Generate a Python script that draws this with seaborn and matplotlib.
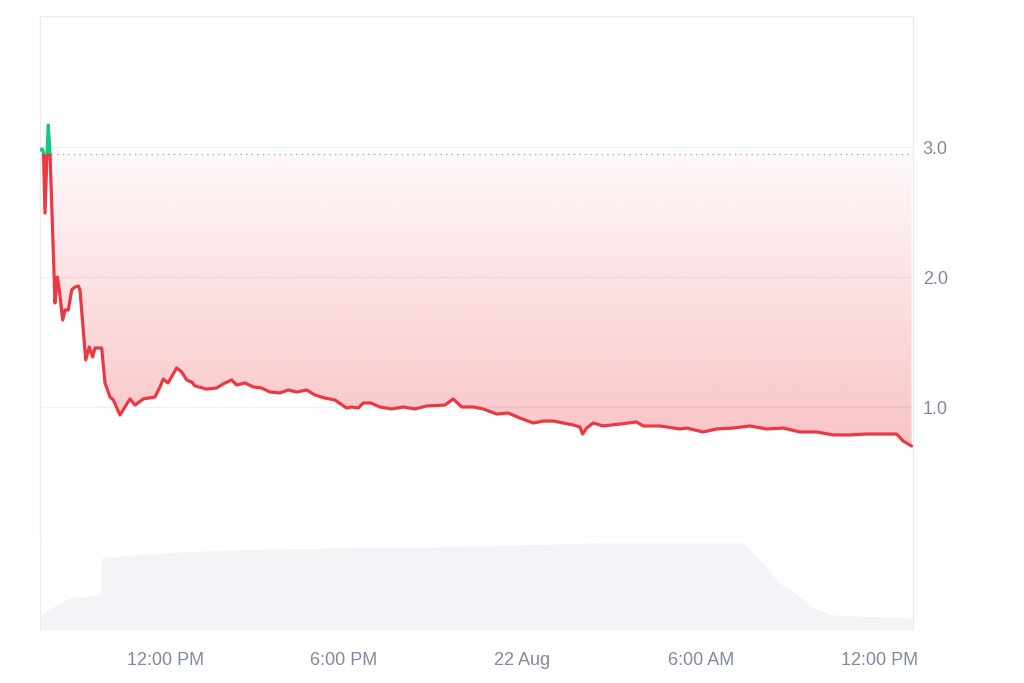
import numpy as np
import pandas as pd
import matplotlib
matplotlib.use("Agg")
import matplotlib.pyplot as plt
from matplotlib.colors import LinearSegmentedColormap
from matplotlib.patches import Rectangle
import seaborn as sns

# price (hours since 21 Aug 00:00)
hours = [7.817, 7.867, 7.917, 7.968, 8.035, 8.079, 8.136, 8.304, 8.381, 8.448,
         8.562, 8.639, 8.750, 8.864, 8.975, 9.086, 9.143, 9.334, 9.455, 9.569,
         9.646, 9.871, 9.982, 10.150, 10.261, 10.486, 10.653, 10.821, 10.989, 11.268,
         11.660, 11.828, 11.939, 12.097, 12.389, 12.557, 12.725, 12.892, 13.003, 13.396,
         13.732, 14.010, 14.235, 14.403, 14.681, 14.960, 15.242, 15.521, 15.857, 16.135,
         16.417, 16.753, 17.031, 17.367, 17.703, 18.095, 18.263, 18.485, 18.652, 18.901,
         19.213, 19.606, 19.996, 20.388, 20.781, 21.395, 21.674, 21.956, 22.345, 22.681,
         23.131, 23.520, 23.913, 24.359, 24.695, 25.031, 25.702, 25.927, 26.018, 26.152,
         26.374, 26.709, 27.270, 27.830, 28.052, 28.612, 29.284, 29.509, 30.066, 30.516,
         31.073, 31.634, 32.194, 32.752, 33.312, 33.873, 34.430, 34.991, 35.551, 36.108,
         36.558, 36.780, 37.062]
price = [2.977, 2.985, 2.962, 2.492, 2.954, 3.169, 2.954, 1.800, 2.000, 1.900,
         1.669, 1.746, 1.746, 1.900, 1.923, 1.931, 1.900, 1.362, 1.462, 1.385,
         1.454, 1.454, 1.185, 1.077, 1.054, 0.938, 1.000, 1.062, 1.015, 1.062,
         1.077, 1.154, 1.215, 1.185, 1.300, 1.269, 1.208, 1.192, 1.162, 1.138,
         1.146, 1.185, 1.208, 1.169, 1.185, 1.154, 1.146, 1.115, 1.108, 1.131,
         1.115, 1.131, 1.092, 1.069, 1.054, 0.992, 1.000, 0.992, 1.031, 1.031,
         1.000, 0.985, 1.000, 0.985, 1.008, 1.015, 1.062, 1.000, 1.000, 0.985,
         0.946, 0.954, 0.915, 0.877, 0.892, 0.892, 0.862, 0.846, 0.792, 0.838,
         0.877, 0.854, 0.869, 0.885, 0.854, 0.854, 0.831, 0.838, 0.808, 0.831,
         0.838, 0.854, 0.831, 0.838, 0.808, 0.808, 0.785, 0.785, 0.792, 0.792,
         0.792, 0.738, 0.700]
open_price = 2.95

# volume strip (arbitrary units)
vol_hours = [7.80, 8.53, 8.81, 9.81, 9.87, 10.82, 12.50, 14.18, 17.53, 20.89,
             26.60, 31.40, 31.87, 32.64, 33.08, 33.75, 34.42, 37.11]
volume = [15, 28, 32, 35, 72, 75, 78, 80, 82, 83,
          87, 87, 73, 47, 38, 22, 15, 12]

x_ticks = [12, 18, 24, 30, 36]
x_labels = ["12:00 PM", "6:00 PM", "22 Aug", "6:00 AM", "12:00 PM"]
y_ticks = [1.0, 2.0, 3.0]

red = "#ea3943"
green = "#16c784"
frame = "#eaecf0"
text_grey = "#808a9d"

sns.set_style("white")
plt.rcParams["font.family"] = ["Liberation Sans", "DejaVu Sans"]

W, H = 1024, 683
fig = plt.figure(figsize=(W / 100, H / 100), dpi=100)
ax = fig.add_axes([40 / W, (H - 537) / H, 873 / W, 521 / H])
axv = fig.add_axes([40 / W, (H - 630) / H, 873 / W, 93 / H], sharex=ax)

x0, x1 = 7.80, 37.11

# gradient fill between the price and the open line
poly = ax.fill_between(hours, price, open_price, color="none", lw=0)
cmap = LinearSegmentedColormap.from_list(
    "fade", [(234 / 255, 57 / 255, 67 / 255, 0.30), (234 / 255, 57 / 255, 67 / 255, 0.03)])
grad = np.linspace(0, 1, 256).reshape(-1, 1)
im = ax.imshow(grad, extent=[x0, x1, min(price), open_price], origin="lower",
               aspect="auto", cmap=cmap, zorder=1)
im.set_clip_path(poly.get_paths()[0], transform=ax.transData)

ax.axhline(open_price, color="#a6b0c3", ls=(0, (1, 3)), lw=1, zorder=2)

df = pd.DataFrame({"hour": hours, "price": price})
sns.lineplot(data=df, x="hour", y="price", ax=ax, color=red, lw=2.3, zorder=3)
ax.lines[-1].set_clip_path(Rectangle((x0, -1), x1 - x0, open_price + 1, transform=ax.transData))
sns.lineplot(data=df, x="hour", y="price", ax=ax, color=green, lw=2.3, zorder=3)
ax.lines[-1].set_clip_path(Rectangle((x0, open_price), x1 - x0, 5, transform=ax.transData))

ax.set_xlim(x0, x1)
ax.set_ylim(0, 521 / 130)
ax.set_yticks(y_ticks)
ax.set_yticklabels([f"{t:.1f}" for t in y_ticks])
ax.yaxis.tick_right()
ax.tick_params(axis="y", length=0, pad=7, labelsize=13, labelcolor=text_grey)
ax.tick_params(axis="x", length=0, labelbottom=False)
ax.grid(axis="y", color="#eff2f5", lw=1)
ax.grid(axis="x", visible=False)
ax.set_xlabel("")
ax.set_ylabel("")
for s in ax.spines.values():
    s.set_color(frame)
    s.set_linewidth(1)

# volume
axv.fill_between(vol_hours, volume, color="#f2f4f7", lw=0)
axv.set_ylim(0, 93)
axv.set_yticks([])
axv.set_xticks(x_ticks)
axv.set_xticklabels(x_labels)
axv.tick_params(axis="x", length=0, pad=16, labelsize=13, labelcolor=text_grey)
axv.spines["top"].set_visible(False)
axv.spines["bottom"].set_visible(False)
for s in ("left", "right"):
    axv.spines[s].set_color(frame)

fig.savefig("out.png", dpi=100)
